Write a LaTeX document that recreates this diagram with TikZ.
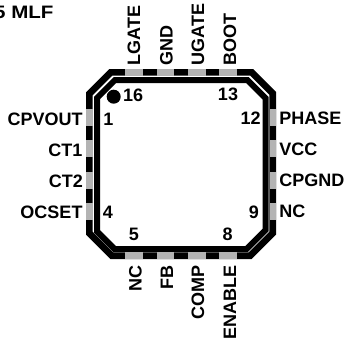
\documentclass[tikz,border=0pt]{standalone}
\usepackage{fontspec}
\setmainfont{Liberation Sans}
\definecolor{padgrey}{HTML}{B3B3B3}
\tikzset{
  band/.style={draw=black,line width=6.6pt,line join=miter},
  pad/.style={fill=padgrey,draw=none},
  lab/.style={inner sep=0pt,outer sep=0pt,font=\fontsize{18pt}{18pt}\selectfont\bfseries},
  leftlab/.style={lab,anchor=base east},
  rightlab/.style={lab,anchor=base west},
  uplab/.style={lab,rotate=90,anchor=base west},
  downlab/.style={lab,rotate=90,anchor=base east},
  midlab/.style={lab,anchor=base}
}
\begin{document}
\begin{tikzpicture}[x=1pt,y=-1pt]
\useasboundingbox (0,0) rectangle (345,341);
\draw[band] (110.8,72.3) -- (251.7,72.3) -- (272.7,93.3) -- (272.7,233.2) -- (250.2,255.7) -- (111.8,255.7) -- (89.3,233.2) -- (89.3,93.8) -- cycle;
\draw[band,line width=6pt] (115,80) -- (247.4,80) -- (265.5,98.1) -- (265.5,230) -- (246.6,249) -- (114.7,249) -- (97,231.3) -- (97,98) -- cycle;
% top and bottom pads
\foreach \a/\b in {125/143,157/174,188/206,219/237}{
  \fill[pad] (\a,69) rectangle (\b,76);
  \fill[pad] (\a,252) rectangle (\b,259);
}
% side pads
\foreach \a/\b in {109/126,140/157,172/189,203/220}{
  \fill[pad] (86,\a) rectangle (93,\b);
  \fill[pad] (269.5,\a) rectangle (276,\b);
}
\fill[black] (113.7,96.7) circle (7);
\node[lab,anchor=base east,font=\fontsize{18pt}{18pt}\selectfont\bfseries\addfontfeature{FakeStretch=1.14}] (title) at (53.5,18) {5 MLF};
\node[uplab] (lgate) at (140,65) {LGATE};
\node[uplab] (gnd) at (172.7,65) {GND};
\node[uplab] (ugate) at (204,65) {UGATE};
\node[uplab] (boot) at (236,65) {BOOT};
\node[downlab] (nc1) at (141.7,265) {NC};
\node[downlab] (fb) at (173,265) {FB};
\node[downlab] (comp) at (204,265) {COMP};
\node[downlab] (enable) at (236,265) {ENABLE};
\node[leftlab] (cpvout) at (82.7,125) {CPVOUT};
\node[leftlab] (ct1) at (82.5,156) {CT1};
\node[leftlab] (ct2) at (83,187) {CT2};
\node[leftlab] (ocset) at (82.5,218.7) {OCSET};
\node[rightlab] (phase) at (279.3,124.3) {PHASE};
\node[rightlab] (vcc) at (279.3,155) {VCC};
\node[rightlab] (cpgnd) at (279.3,186.7) {CPGND};
\node[rightlab] (nc2) at (279.3,217.7) {NC};
\node[rightlab] (n16) at (123,101) {16};
\node[midlab] (n1) at (108.5,125) {1};
\node[midlab] (n4) at (108,218.7) {4};
\node[midlab] (n5) at (134,240.5) {5};
\node[midlab] (n8) at (227.7,240.5) {8};
\node[midlab] (n9) at (254,218.7) {9};
\node[leftlab] (n12) at (260.7,124.3) {12};
\node[midlab] (n13) at (228,100.7) {13};
\end{tikzpicture}
\end{document}
